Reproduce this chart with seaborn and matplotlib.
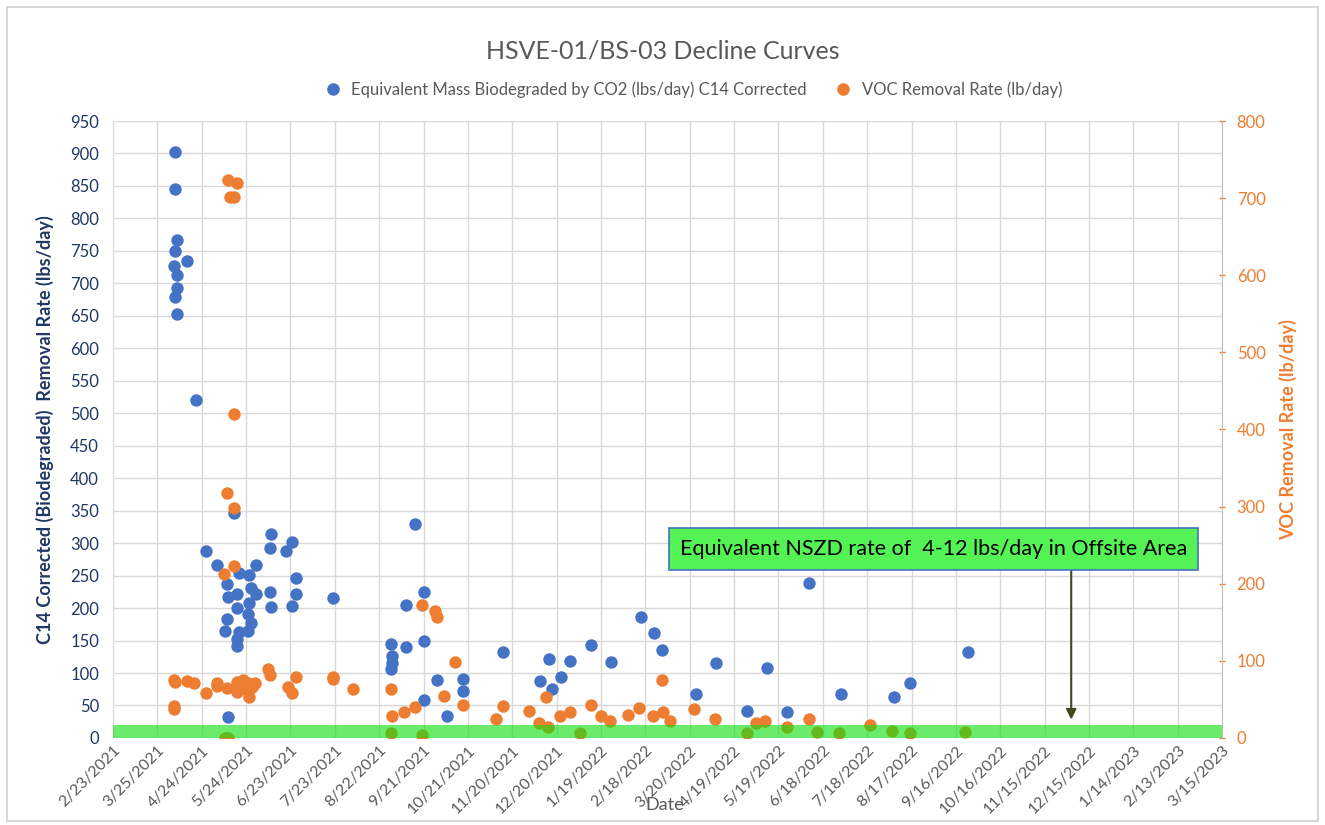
import matplotlib
matplotlib.use("Agg")
import matplotlib.pyplot as plt
import matplotlib.ticker as mticker
import matplotlib.dates as mdates
from matplotlib.patches import Rectangle
import seaborn as sns
import pandas as pd

# C14 corrected biodegradation (left axis, lbs/day)
bio_dates = [
    "2021-04-06", "2021-04-06", "2021-04-07", "2021-04-06", "2021-04-05", "2021-04-07",
    "2021-04-14", "2021-04-07", "2021-04-06", "2021-04-07", "2021-04-20",
    "2021-05-16", "2021-06-10", "2021-06-24", "2021-06-09", "2021-06-20", "2021-04-27",
    "2021-05-04", "2021-05-31", "2021-05-19", "2021-05-26", "2021-06-27", "2021-05-11",
    "2021-05-27", "2021-05-31", "2021-06-09", "2021-06-27", "2021-05-12", "2021-05-18",
    "2021-05-26", "2021-05-18", "2021-06-10", "2021-06-24", "2021-05-25", "2021-05-11",
    "2021-05-27", "2021-05-10", "2021-05-19", "2021-05-25", "2021-05-18", "2021-05-18",
    "2021-05-12",
    "2021-07-22", "2021-09-15", "2021-09-21", "2021-09-09", "2021-08-30", "2021-09-09",
    "2021-09-21", "2021-08-31", "2021-08-31", "2021-08-30", "2021-09-30", "2021-10-18",
    "2021-10-18", "2021-09-21", "2021-10-07", "2021-11-14", "2021-12-09", "2021-12-15",
    "2021-12-23", "2021-12-17", "2021-12-29", "2022-01-12", "2022-01-26", "2022-02-15",
    "2022-02-24", "2022-03-01", "2022-03-24", "2022-04-07", "2022-05-11", "2022-04-28",
    "2022-05-25", "2022-06-09", "2022-06-30", "2022-08-05", "2022-08-16", "2022-09-24",
]
bio_values = [
    902, 845, 767, 750, 727, 713,
    734, 693, 679, 653, 520,
    347, 314, 302, 293, 288, 288,
    267, 267, 254, 251, 246, 237,
    231, 222, 225, 222, 217, 222,
    208, 200, 202, 203, 191, 183,
    177, 165, 163, 165, 152, 142,
    32,
    216, 330, 225, 205, 145, 140,
    149, 126, 116, 106, 89, 91,
    72, 58, 34, 132, 88, 122,
    94, 75, 119, 143, 117, 186,
    162, 136, 68, 115, 108, 42,
    40, 239, 68, 63, 85, 132,
]

# VOC removal rate (right axis, lb/day)
voc_dates = [
    "2021-05-12", "2021-05-18", "2021-05-13", "2021-05-16", "2021-05-16", "2021-05-11",
    "2021-05-16", "2021-05-16", "2021-05-09",
    "2021-04-05", "2021-04-06", "2021-04-05", "2021-04-05", "2021-04-14", "2021-04-19",
    "2021-04-27", "2021-05-04", "2021-05-04", "2021-05-11", "2021-05-18", "2021-05-18",
    "2021-05-25", "2021-05-30", "2021-05-26", "2021-05-20", "2021-05-22", "2021-05-28",
    "2021-05-23", "2021-06-08", "2021-06-09", "2021-06-21", "2021-06-24", "2021-06-27",
    "2021-05-10", "2021-05-12",
    "2021-07-22", "2021-07-22", "2021-08-04", "2021-08-30", "2021-09-20", "2021-09-29",
    "2021-09-30", "2021-10-12", "2021-10-05", "2021-10-18", "2021-09-15", "2021-09-08",
    "2021-08-31", "2021-11-14", "2021-11-09", "2021-12-01", "2021-12-08", "2021-12-13",
    "2021-12-22", "2021-12-29", "2022-01-12", "2022-01-19", "2022-01-25", "2022-02-06",
    "2022-02-14", "2022-02-23", "2022-03-02", "2022-03-07", "2022-03-01", "2022-03-23",
    "2022-04-06", "2022-05-04", "2022-05-10", "2022-05-25", "2022-06-09", "2022-07-20",
    "2021-08-30", "2021-09-20", "2021-12-14", "2022-01-05", "2022-04-28", "2022-06-14",
    "2022-06-29", "2022-08-04", "2022-08-16", "2022-09-22",
]
voc_values = [
    724, 720, 702, 702, 420, 318,
    298, 223, 213,
    75, 72, 41, 37, 74, 71,
    58, 71, 67, 65, 73, 60,
    71, 71, 53, 68, 75, 66,
    63, 89, 82, 66, 58, 79,
    0, 0,
    79, 76, 64, 64, 172, 165,
    157, 99, 54, 43, 40, 34,
    28, 41, 25, 35, 19, 53,
    29, 34, 43, 29, 22, 30,
    39, 29, 34, 22, 75, 38,
    25, 19, 22, 14, 25, 17,
    6, 4, 14, 6, 6, 8,
    6, 9, 6, 8,
]

bio_label = "Equivalent Mass Biodegraded by CO2 (lbs/day) C14 Corrected"
voc_label = "VOC Removal Rate (lb/day)"
note_text = "Equivalent NSZD rate of  4-12 lbs/day in Offsite Area"

bio = pd.DataFrame({"date": pd.to_datetime(bio_dates), "rate": bio_values})
voc = pd.DataFrame({"date": pd.to_datetime(voc_dates), "rate": voc_values})

BLUE = "#4472C4"
ORANGE = "#ED7D31"
NAVY = "#1F3864"
GREY = "#595959"

sns.set_style("white")
plt.rcParams["font.family"] = ["Lato", "DejaVu Sans"]

fig = plt.figure(figsize=(13.25, 8.25), dpi=100)
ax1 = fig.add_axes([0.0853, 0.1055, 0.8370, 0.7478])
ax2 = ax1.twinx()

sns.scatterplot(data=bio, x="date", y="rate", ax=ax1, color=BLUE, s=80,
                linewidth=0, label=bio_label, legend=False, zorder=3)
sns.scatterplot(data=voc, x="date", y="rate", ax=ax2, color=ORANGE, s=80,
                linewidth=0, label=voc_label, legend=False, zorder=3)

start = pd.Timestamp("2021-02-23")
end = pd.Timestamp("2023-03-15")
ticks = pd.date_range(start, end, freq="30D")
ax1.set_xlim(start, end)
ax1.set_xticks(ticks)
ax1.xaxis.set_major_formatter(mticker.FuncFormatter(
    lambda v, p: (lambda d: f"{d.month}/{d.day}/{d.year}")(mdates.num2date(v))))
plt.setp(ax1.get_xticklabels(), rotation=45, ha="right", rotation_mode="anchor",
         color=GREY, fontsize=11.5)

ax1.set_ylim(0, 950)
ax1.set_yticks(range(0, 951, 50))
ax2.set_ylim(0, 800)
ax2.set_yticks(range(0, 801, 100))
ax1.tick_params(axis="y", colors=NAVY, labelsize=12, length=0, pad=10)
ax1.tick_params(axis="x", length=0, pad=4)
ax2.tick_params(axis="y", colors=ORANGE, labelsize=12, length=5, width=1,
                direction="inout", pad=8)

ax1.grid(True, color="#d9d9d9", linewidth=1)
ax1.set_axisbelow(True)
for ax in (ax1, ax2):
    for side in ("top", "left", "bottom", "right"):
        ax.spines[side].set_visible(False)
ax2.spines["right"].set_visible(True)
ax2.spines["right"].set_color("#bfbfbf")

ax1.set_ylabel("C14 Corrected (Biodegraded)  Removal Rate (lbs/day)", color=NAVY,
               fontsize=13, fontweight="bold", labelpad=12)
ax2.set_ylabel(voc_label, color=ORANGE, fontsize=13, fontweight="bold",
               rotation=90, labelpad=10)
ax1.set_xlabel("Date", color=GREY, fontsize=13)
ax1.xaxis.set_label_coords(0.497, -0.095)

# NSZD band, drawn over the points
ax2.axhspan(0, 20 * 800 / 950, color="#10E010", alpha=0.62, linewidth=0, zorder=5)

ax1.annotate("", xy=(pd.Timestamp("2022-12-03"), 24), xytext=(pd.Timestamp("2022-12-03"), 262),
             arrowprops=dict(arrowstyle="-|>", color="#3D4A1F", lw=1.5, mutation_scale=15),
             zorder=6)
ax2.text(0.740, 0.306, note_text, transform=ax1.transAxes, ha="center", va="center",
         fontsize=15.5, color="black", zorder=7,
         bbox=dict(boxstyle="square,pad=0.5", facecolor="#55F255", edgecolor="#4472C4", lw=1.2))

fig.suptitle("HSVE-01/BS-03 Decline Curves", y=0.952, fontsize=18, color=GREY)

handles = [plt.Line2D([], [], marker="o", linestyle="", color=c, markersize=8)
           for c in (BLUE, ORANGE)]
fig.legend(handles, [bio_label, voc_label], loc="center", bbox_to_anchor=(0.52, 0.891),
           ncol=2, frameon=False, fontsize=12, handletextpad=0.1, columnspacing=1.2,
           labelcolor=GREY)

fig.patches.append(Rectangle((0.005, 0.005), 0.99, 0.987, transform=fig.transFigure,
                             fill=False, edgecolor="#d0d0d0", lw=1.2))

fig.savefig("out.png", dpi=100)
